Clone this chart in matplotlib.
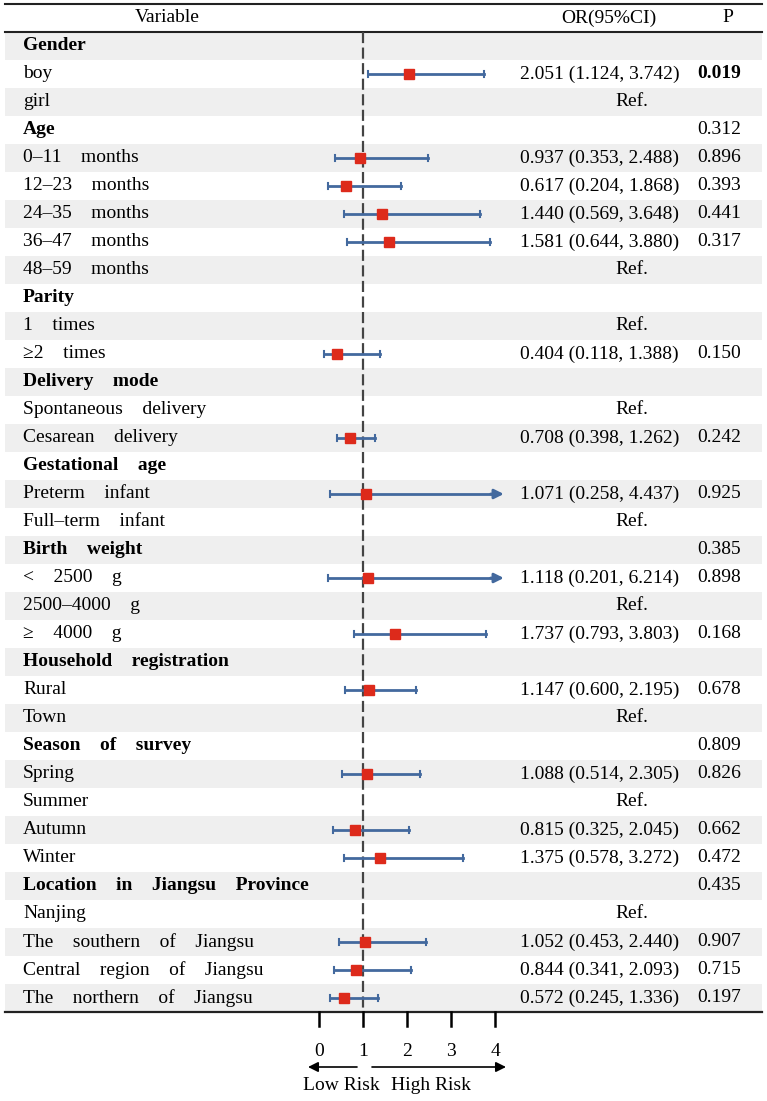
import matplotlib
matplotlib.use("Agg")
import matplotlib.pyplot as plt
from matplotlib.transforms import blended_transform_factory
import numpy as np

plt.rcParams['font.family'] = ['Liberation Serif', 'DejaVu Serif']

# ---------------- data ----------------
labels = ["Gender", "boy", "girl",
          "Age", "0–11    months", "12–23    months", "24–35    months", "36–47    months", "48–59    months",
          "Parity", "1    times", "≥2    times",
          "Delivery    mode", "Spontaneous    delivery", "Cesarean    delivery",
          "Gestational    age", "Preterm    infant", "Full–term    infant",
          "Birth    weight", "<    2500    g", "2500–4000    g", "≥    4000    g",
          "Household    registration", "Rural", "Town",
          "Season    of    survey", "Spring", "Summer", "Autumn", "Winter",
          "Location    in    Jiangsu    Province", "Nanjing", "The    southern    of    Jiangsu",
          "Central    region    of    Jiangsu", "The    northern    of    Jiangsu"]
is_header = [True, False, False,
             True, False, False, False, False, False,
             True, False, False,
             True, False, False,
             True, False, False,
             True, False, False, False,
             True, False, False,
             True, False, False, False, False,
             True, False, False, False, False]
or_vals = [None, 2.051, "ref",
           None, 0.937, 0.617, 1.440, 1.581, "ref",
           None, "ref", 0.404,
           None, "ref", 0.708,
           None, 1.071, "ref",
           None, 1.118, "ref", 1.737,
           None, 1.147, "ref",
           None, 1.088, "ref", 0.815, 1.375,
           None, "ref", 1.052, 0.844, 0.572]
lo_vals = [None, 1.124, None,
           None, 0.353, 0.204, 0.569, 0.644, None,
           None, None, 0.118,
           None, None, 0.398,
           None, 0.258, None,
           None, 0.201, None, 0.793,
           None, 0.600, None,
           None, 0.514, None, 0.325, 0.578,
           None, None, 0.453, 0.341, 0.245]
hi_vals = [None, 3.742, None,
           None, 2.488, 1.868, 3.648, 3.880, None,
           None, None, 1.388,
           None, None, 1.262,
           None, 4.437, None,
           None, 6.214, None, 3.803,
           None, 2.195, None,
           None, 2.305, None, 2.045, 3.272,
           None, None, 2.440, 2.093, 1.336]
p_vals = [None, "0.019", None,
          "0.312", "0.896", "0.393", "0.441", "0.317", None,
          None, None, "0.150",
          None, None, "0.242",
          None, "0.925", None,
          "0.385", "0.898", None, "0.168",
          None, "0.678", None,
          "0.809", "0.826", None, "0.662", "0.472",
          "0.435", None, "0.907", "0.715", "0.197"]
p_bold = [False, True] + [False] * 33
xticks = [0, 1, 2, 3, 4]
x_clip = 4.2

# ---------------- layout ----------------
W, H = 767, 1101
fig = plt.figure(figsize=(W / 100, H / 100), dpi=100)
ax = fig.add_axes([0, 0, 1, 1])
px0, ppu = 319, 44.0          # pixel of x=0, pixels per unit
ax.set_xlim(-px0 / ppu, (W - px0) / ppu)
ax.set_ylim((H - 18) / 28, -18 / 28)
ax.axis('off')
tf = blended_transform_factory(fig.transFigure, ax.transData)

def fx(p):
    return p / W

n = len(labels)
blue = '#43699e'
red = '#dd2a1b'
fs = 14

# row shading
for i in range(1, n + 1):
    if i % 2 == 1:
        ax.fill_between([fx(5), fx(762)], i - 0.5, i + 0.5, color='#efefef',
                        transform=tf, lw=0, zorder=0)

# lines
ax.plot([fx(5), fx(762)], [-0.5, -0.5], color='#222222', lw=1.5, transform=tf)
ax.plot([fx(5), fx(762)], [0.5, 0.5], color='#222222', lw=1.5, transform=tf)
ax.plot([fx(5), fx(762)], [n + 0.5, n + 0.5], color='#222222', lw=1.6, transform=tf)

# header
ax.text(fx(167), 0, "Variable", transform=tf, ha='center', va='center', fontsize=fs)
ax.text(fx(609), 0, "OR(95%CI)", transform=tf, ha='center', va='center', fontsize=fs)
ax.text(fx(728), 0, "P", transform=tf, ha='center', va='center', fontsize=fs)

# reference line
ax.plot([1, 1], [0.5, n + 0.5], color='#444444', lw=1.6, ls=(0, (5, 2)), zorder=2)

for k in range(n):
    y = k + 1
    ax.text(fx(23), y, labels[k], transform=tf, ha='left', va='center', fontsize=fs,
            fontweight='bold' if is_header[k] else 'normal')
    o = or_vals[k]
    if o == "ref":
        ax.text(fx(632), y, "Ref.", transform=tf, ha='center', va='center', fontsize=fs)
    elif o is not None:
        lo, hi = lo_vals[k], hi_vals[k]
        ax.text(fx(520), y, f"{o:.3f} ({lo:.3f}, {hi:.3f})", transform=tf,
                ha='left', va='center', fontsize=fs)
        if hi > x_clip:
            ax.plot([lo, x_clip - 0.2], [y, y], color=blue, lw=2.0, zorder=3)
            ax.annotate("", xy=(x_clip, y), xytext=(x_clip - 0.3, y),
                        arrowprops=dict(arrowstyle='-|>', color=blue, lw=2.0,
                                        mutation_scale=14, shrinkA=0, shrinkB=0),
                        zorder=3)
            ax.plot([lo, lo], [y - 0.1, y + 0.1], color=blue, lw=1.5, zorder=3)
        else:
            ax.plot([lo, hi], [y, y], color=blue, lw=2.0, zorder=3)
            ax.plot([lo, lo], [y - 0.1, y + 0.1], color=blue, lw=1.5, zorder=3)
            ax.plot([hi, hi], [y - 0.1, y + 0.1], color=blue, lw=1.5, zorder=3)
        ax.plot([o], [y], marker='s', ms=6.5, color=red, mec=red, zorder=4)
    if p_vals[k] is not None:
        ax.text(fx(697), y, p_vals[k], transform=tf, ha='left', va='center', fontsize=fs,
                fontweight='bold' if p_bold[k] else 'normal')

# x axis ticks below the table
ytick0 = n + 0.5
ytick1 = (1026 - 18) / 28
for t in xticks:
    ax.plot([t, t], [ytick0, ytick1], color='black', lw=1.8, zorder=2)
    ax.text(t, (1052 - 18) / 28, str(t), ha='center', va='center', fontsize=fs)

ya = (1067 - 18) / 28
ax.annotate("", xy=((308 - px0) / ppu, ya), xytext=((357 - px0) / ppu, ya),
            arrowprops=dict(arrowstyle='-|>', color='black', lw=1.2, mutation_scale=15,
                            shrinkA=0, shrinkB=0))
ax.annotate("", xy=((506 - px0) / ppu, ya), xytext=((372 - px0) / ppu, ya),
            arrowprops=dict(arrowstyle='-|>', color='black', lw=1.2, mutation_scale=15,
                            shrinkA=0, shrinkB=0))
yl = (1086 - 18) / 28
ax.text((341 - px0) / ppu, yl, "Low Risk", ha='center', va='center', fontsize=fs)
ax.text((431 - px0) / ppu, yl, "High Risk", ha='center', va='center', fontsize=fs)

fig.savefig("out.png", dpi=100)
